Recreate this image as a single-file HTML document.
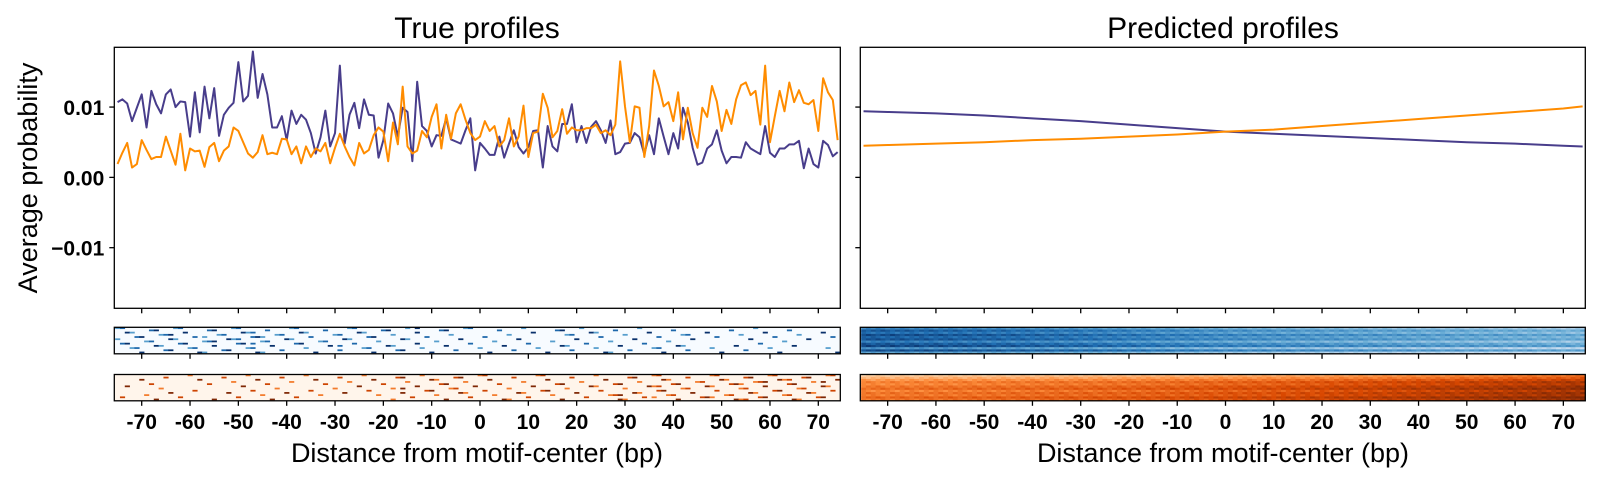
<!DOCTYPE html>
<html><head><meta charset="utf-8"><style>
html,body{margin:0;padding:0;background:#fff;}
svg text{font-family:"Liberation Sans",sans-serif;fill:#000;}
</style></head><body>
<svg id="fig" width="1600" height="482" viewBox="0 0 1600 482" xmlns="http://www.w3.org/2000/svg">
<text x="477" y="38" font-size="30" text-anchor="middle">True profiles</text>
<text x="1223" y="38" font-size="30" text-anchor="middle">Predicted profiles</text>
<text transform="translate(37,178) rotate(-90)" font-size="27" text-anchor="middle">Average probability</text>
<text x="477" y="462" font-size="27" text-anchor="middle">Distance from motif-center (bp)</text>
<text x="1223" y="462" font-size="27" text-anchor="middle">Distance from motif-center (bp)</text>
<g id="plots"></g>
</svg>
<script>
// True profiles (units of 0.001), positions -75..74
const truePurple=[10.7,11.1,10.5,8.0,9.9,11.8,7.1,12.3,10.4,9.1,11.8,12.5,10.0,10.8,10.7,5.8,12.1,6.4,12.9,8.4,12.7,5.9,8.9,9.9,10.6,16.4,10.8,11.6,17.9,11.3,14.7,11.8,7.1,7.1,8.7,5.3,9.5,7.6,8.9,8.2,6.3,3.4,5.7,9.5,4.4,6.3,15.9,4.8,8.9,10.6,7.0,11.1,8.9,8.8,2.8,5.3,10.5,9.1,5.8,9.9,9.3,2.3,13.6,7.3,6.6,4.4,6.0,5.9,8.4,5.4,5.1,4.8,6.7,8.4,1.0,4.9,4.1,3.2,3.2,5.8,2.8,4.8,6.7,4.3,3.4,4.3,6.6,6.7,1.4,7.3,4.4,3.7,7.6,7.6,10.4,5.0,7.3,4.9,7.2,8.0,6.7,4.9,8.1,3.3,3.6,4.8,4.9,6.3,5.7,3.3,6.0,3.3,8.4,5.8,3.3,6.3,4.1,9.9,7.8,4.2,1.8,2.1,4.1,4.7,6.7,3.8,2.0,2.9,2.9,2.8,5.0,4.1,3.7,3.3,7.3,3.5,2.9,4.1,4.1,4.7,4.7,5.2,1.3,4.1,1.9,1.4,5.2,4.6,3.0,3.6];
const trueOrange=[1.9,3.5,4.9,1.4,1.9,5.3,3.9,2.6,2.9,2.9,5.8,3.8,1.8,6.2,1.0,4.1,3.7,3.8,1.5,4.3,4.9,2.3,3.8,4.4,7.1,6.6,5.0,3.4,2.8,3.6,6.0,3.3,3.5,3.3,5.5,5.4,3.3,4.4,2.0,4.4,2.9,4.1,3.7,4.9,2.0,4.2,6.2,4.4,2.9,1.7,4.9,3.4,3.9,6.0,7.1,6.5,2.3,7.8,4.7,12.9,4.4,3.4,3.8,6.6,5.7,8.6,10.4,4.1,8.9,5.5,9.1,10.4,8.2,6.3,5.3,5.8,8.0,6.6,7.3,4.4,5.3,8.4,4.4,5.8,10.2,2.9,6.3,6.5,11.9,9.9,5.7,6.6,9.7,6.2,7.1,6.7,6.7,7.0,7.0,7.5,6.3,6.7,6.0,7.5,16.5,10.1,5.0,10.1,9.9,2.9,7.3,15.2,13.0,10.1,10.7,8.0,12.1,5.4,9.9,6.3,4.2,9.9,8.6,13.0,10.8,6.6,9.6,7.6,11.1,13.1,13.5,11.7,12.3,7.5,15.9,5.0,8.7,12.3,9.4,13.5,10.7,12.4,10.6,10.4,11.0,6.6,14.1,12.1,11.0,5.3];
// Predicted profiles (units of 0.001) at knot positions
const predPos=[-75,-70,-60,-50,-40,-30,-20,-10,0,10,20,30,40,50,60,70,74];
const predPurple=[9.4,9.3,9.1,8.8,8.4,8.0,7.5,7.0,6.5,6.2,5.9,5.6,5.3,5.0,4.8,4.5,4.4];
const predOrange=[4.5,4.6,4.8,5.0,5.3,5.5,5.8,6.1,6.5,6.8,7.3,7.8,8.3,8.8,9.3,9.8,10.1];
const xTicks=[-70,-60,-50,-40,-30,-20,-10,0,10,20,30,40,50,60,70];
const yTicks=[0.01,0.00,-0.01];
const yTickLabels=["0.01","0.00","\u22120.01"];
const rowOffsetsBlue=[-0.12,0.05,-0.05,0.1,0.0,0.08,-0.1,0.05,0.12,-0.18,0.1,-0.22];
const rowOffsetsOrange=[-0.25,-0.15,-0.05,0.05,0.0,0.08,0.12,0.02,0.1,0.05,0.15,0.08];

const NS="http://www.w3.org/2000/svg";
const G=document.getElementById('plots');
function mk(tag,attrs,parent){const e=document.createElementNS(NS,tag);for(const k in attrs)e.setAttribute(k,attrs[k]);(parent||G).appendChild(e);return e;}
const XMIN=-75.67,XMAX=74.55,YMIN=-0.01862,YMAX=0.0185;
const panels=[{x0:114.3,x1:840.3,name:'left'},{x0:860.3,x1:1585.3,name:'right'}];
const MT=47.3,MB=308.3, BT=327.3,BB=353.8, OT=374.5,OB=400.8;
function sx(p,v){return p.x0+(v-XMIN)/(XMAX-XMIN)*(p.x1-p.x0);}
function sy(v){return MB-(v-YMIN)/(YMAX-YMIN)*(MB-MT);}
function interp(xs,ys,x){if(x<=xs[0])return ys[0];for(let i=1;i<xs.length;i++){if(x<=xs[i]){const t=(x-xs[i-1])/(xs[i]-xs[i-1]);return ys[i-1]+t*(ys[i]-ys[i-1]);}}return ys[ys.length-1];}
function lerpColor(stops,t){t=Math.max(0,Math.min(1,t));const n=stops.length-1;const i=Math.min(n-1,Math.floor(t*n));const f=t*n-i;const a=stops[i],b=stops[i+1];return 'rgb('+[0,1,2].map(k=>Math.round(a[k]+f*(b[k]-a[k]))).join(',')+')';}
const BLUES=[[247,251,255],[198,219,239],[107,174,214],[33,113,181],[8,48,107]];
const ORANGES=[[255,245,235],[253,208,162],[253,141,60],[217,72,1],[127,39,4]];

function lineSeries(p,xs,ys,color,name){
  const pts=xs.map((x,i)=>sx(p,x).toFixed(2)+','+sy(ys[i]/1000).toFixed(2)).join(' ');
  const l=mk('polyline',{points:pts,fill:'none',stroke:color,'stroke-width':2,'stroke-linejoin':'round'});
  
  
}
function xTickMarks(p,yb,withLabels,name){
  const g=mk('g',{});
  
  
  xTicks.forEach(t=>{const x=sx(p,t);mk('line',{x1:x,x2:x,y1:yb,y2:yb+5,stroke:'#000','stroke-width':1.3},g);
    if(withLabels){const tx=mk('text',{x:x,y:yb+28,'font-size':21,'font-weight':'bold','text-anchor':'middle'},g);tx.textContent=String(t);}});
}
const positions=truePurple.map((_,i)=>i-75);

panels.forEach((p,pi)=>{
  const ax=mk('rect',{x:p.x0,y:MT,width:p.x1-p.x0,height:MB-MT,fill:'none',stroke:'#000','stroke-width':1.3});
  
  
  yTicks.forEach((t,i)=>{const y=sy(t);mk('line',{x1:p.x0-5,x2:p.x0,y1:y,y2:y,stroke:'#000','stroke-width':1.3});
    if(pi===0){const tx=mk('text',{x:p.x0-10,y:y+8,'font-size':21,'font-weight':'bold','text-anchor':'end'});tx.textContent=yTickLabels[i];
      
      }});
  xTickMarks(p,MB,false,p.name+'-main-x-ticks');
  if(pi===0){
    lineSeries(p,positions,truePurple,'#483d8b','true-profile-purple');
    lineSeries(p,positions,trueOrange,'#ff8c00','true-profile-orange');
  } else {
    lineSeries(p,predPos,predPurple,'#483d8b','predicted-profile-purple');
    lineSeries(p,predPos,predOrange,'#ff8c00','predicted-profile-orange');
  }
  [[BT,BB,BLUES,'blue',truePurple,predPurple,rowOffsetsBlue],[OT,OB,ORANGES,'orange',trueOrange,predOrange,rowOffsetsOrange]].forEach(h=>{
    const [t,b,cmap,cname,tv,pv,ro]=h;
    const g=mk('g',{});
    
    
    const rows=ro.length, rh=(b-t)/rows;
    mk('rect',{x:p.x0,y:t,width:p.x1-p.x0,height:b-t,fill:lerpColor(cmap,0)},g);
    positions.forEach((pos,i)=>{
      const x=sx(p,pos-0.5), w=sx(p,pos+0.5)-x;
      if(pi===0){
        const n=Math.round(tv[i]/5);
        for(let j=0;j<n;j++){
          const r=(i*7+j*5+(cname==='blue'?0:3))%rows;
          const lvl=((i+j*3)%3+1)/3;
          mk('rect',{x:x,y:t+r*rh,width:w+0.3,height:rh*0.8,fill:lerpColor(cmap,0.35+0.65*lvl)},g);
        }
      } else {
        const v=interp(predPos,pv,pos);
        const base=cname==='blue'?0.45+(v-4.4)/5*0.35:0.5+(v-4.5)/5.6*0.35;
        for(let r=0;r<rows;r++){
          const jit=(((i*13+r*7)%5)-2)*0.025;
          mk('rect',{x:x,y:t+r*rh,width:w+0.4,height:rh+0.3,fill:lerpColor(cmap,base+ro[r]+jit)},g);
        }
      }
    });
    mk('rect',{x:p.x0,y:t,width:p.x1-p.x0,height:b-t,fill:'none',stroke:'#000','stroke-width':1.3},g);
    xTickMarks(p,b,cname==='orange',p.name+'-'+cname+'-x-ticks');
  });
});
</script>
</body></html>
